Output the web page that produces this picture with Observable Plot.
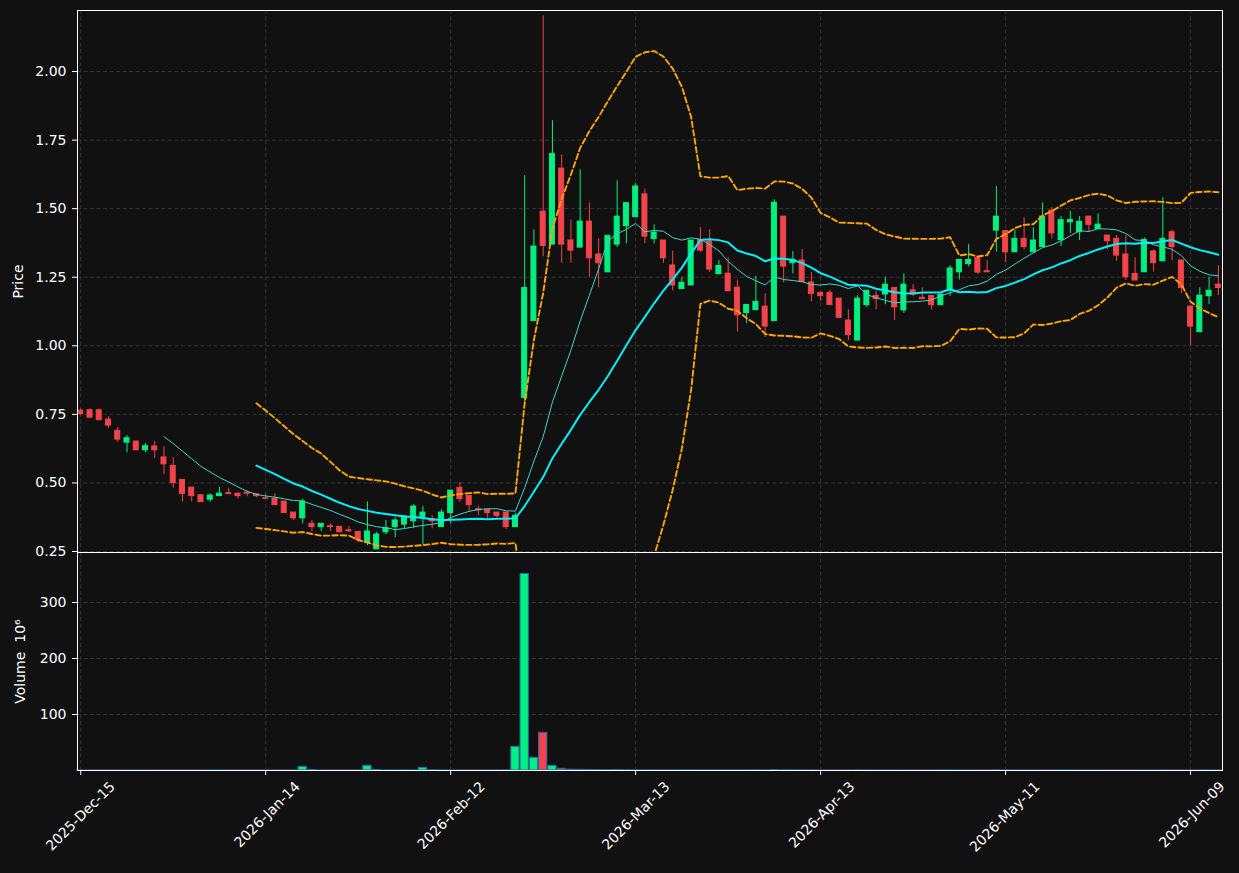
<!DOCTYPE html>
<html><head><meta charset="utf-8">
<script src="https://cdn.jsdelivr.net/npm/d3@7"></script>
<script src="https://cdn.jsdelivr.net/npm/@observablehq/plot@0.6"></script>
<style>
html,body{margin:0;padding:0;background:#111111;}
#chart{width:1239px;height:873px;overflow:hidden;background:#111111;}
#chart svg{display:block;}
</style></head><body><div id="chart"></div>
<script>
// ---- data (index = trading day) ----
const tickIdx = [0, 20, 40, 60, 80, 100, 120];
const tickLabels = ["2025-Dec-15","2026-Jan-14","2026-Feb-12","2026-Mar-13","2026-Apr-13","2026-May-11","2026-Jun-09"];
const priceTicks = [0.25, 0.50, 0.75, 1.00, 1.25, 1.50, 1.75, 2.00];
const volumeTicks = [100, 200, 300];

const opens = [0.764,0.765,0.765,0.731,0.690,0.647,0.651,0.619,0.633,0.593,
0.562,0.511,0.483,0.455,0.439,0.452,0.463,0.461,0.465,0.459,
0.444,0.443,0.432,0.392,0.371,0.351,0.339,0.342,0.340,0.327,
0.321,0.282,0.258,0.320,0.339,0.348,0.360,0.375,0.368,0.339,
0.390,0.482,0.453,0.404,0.402,0.392,0.392,0.339,0.809,1.090,
1.489,1.369,1.646,1.384,1.358,1.453,1.333,1.268,1.369,1.436,
1.469,1.552,1.389,1.384,1.293,1.207,1.220,1.386,1.380,1.261,
1.263,1.212,1.119,1.130,1.143,1.090,1.471,1.301,1.311,1.231,
1.193,1.193,1.172,1.092,1.019,1.148,1.182,1.187,1.211,1.129,
1.202,1.175,1.182,1.148,1.201,1.268,1.298,1.321,1.272,1.420,
1.418,1.341,1.390,1.341,1.360,1.493,1.385,1.450,1.414,1.471,
1.426,1.402,1.390,1.333,1.262,1.268,1.344,1.308,1.414,1.311,
1.143,1.050,1.181,1.223];
const highs = [0.770,0.770,0.770,0.741,0.702,0.673,0.651,0.644,0.651,0.632,
0.592,0.511,0.483,0.458,0.460,0.484,0.481,0.461,0.471,0.459,
0.457,0.460,0.432,0.392,0.441,0.363,0.351,0.351,0.340,0.341,
0.321,0.431,0.320,0.363,0.373,0.378,0.421,0.414,0.380,0.402,
0.472,0.502,0.453,0.414,0.402,0.392,0.392,0.389,1.620,1.423,
2.203,1.821,1.696,1.459,1.642,1.521,1.390,1.401,1.601,1.522,
1.591,1.572,1.441,1.384,1.345,1.250,1.384,1.432,1.423,1.311,
1.321,1.240,1.149,1.253,1.189,1.532,1.471,1.344,1.351,1.268,
1.193,1.202,1.172,1.131,1.182,1.201,1.199,1.250,1.211,1.262,
1.223,1.211,1.182,1.187,1.292,1.313,1.370,1.321,1.311,1.581,
1.418,1.423,1.467,1.430,1.521,1.505,1.471,1.490,1.471,1.471,
1.481,1.402,1.402,1.402,1.321,1.393,1.350,1.540,1.423,1.311,
1.143,1.211,1.250,1.292];
const lows = [0.745,0.736,0.727,0.700,0.648,0.610,0.619,0.610,0.590,0.530,
0.481,0.430,0.430,0.430,0.430,0.452,0.459,0.441,0.450,0.446,
0.440,0.419,0.390,0.363,0.351,0.323,0.323,0.323,0.320,0.319,
0.283,0.271,0.258,0.311,0.300,0.333,0.333,0.275,0.333,0.339,
0.351,0.429,0.392,0.380,0.363,0.372,0.331,0.339,0.782,1.090,
1.325,1.369,1.301,1.301,1.358,1.250,1.211,1.268,1.359,1.372,
1.469,1.372,1.372,1.301,1.200,1.207,1.220,1.341,1.267,1.261,
1.199,1.050,1.080,1.130,1.031,1.090,1.229,1.262,1.232,1.160,
1.162,1.149,1.102,1.019,1.019,1.140,1.131,1.150,1.092,1.119,
1.179,1.170,1.131,1.148,1.180,1.240,1.288,1.260,1.268,1.341,
1.303,1.341,1.350,1.341,1.360,1.390,1.362,1.410,1.384,1.414,
1.426,1.350,1.308,1.238,1.238,1.268,1.268,1.308,1.311,1.190,
1.001,1.050,1.150,1.183];
const closes = [0.751,0.738,0.729,0.709,0.658,0.663,0.619,0.634,0.619,0.568,
0.499,0.460,0.452,0.430,0.454,0.461,0.459,0.452,0.461,0.452,
0.442,0.419,0.390,0.371,0.432,0.339,0.351,0.339,0.320,0.324,
0.292,0.323,0.312,0.335,0.363,0.378,0.414,0.392,0.360,0.392,
0.472,0.441,0.419,0.400,0.390,0.380,0.339,0.380,1.211,1.362,
1.364,1.700,1.369,1.347,1.453,1.319,1.301,1.401,1.471,1.520,
1.581,1.398,1.413,1.319,1.220,1.230,1.384,1.347,1.278,1.291,
1.199,1.111,1.149,1.160,1.070,1.522,1.289,1.313,1.232,1.189,
1.181,1.149,1.102,1.039,1.172,1.201,1.170,1.223,1.140,1.223,
1.187,1.170,1.148,1.187,1.282,1.313,1.313,1.267,1.268,1.471,
1.341,1.390,1.360,1.384,1.471,1.410,1.458,1.459,1.452,1.441,
1.442,1.381,1.329,1.250,1.238,1.386,1.301,1.390,1.360,1.211,
1.070,1.183,1.201,1.211];
// volume, millions
const volumes = [0.1,0.1,0.1,0.1,0.1,0.1,0.1,0.1,0.1,0.1,
0.1,0.1,0.1,0.1,0.1,0.1,0.1,0.1,0.1,0.1,
0.1,0.1,0.1,0.1,6.5,1.0,0.1,0.1,0.1,0.1,
0.1,8.3,1.0,0.1,0.1,0.1,0.1,4.8,0.5,0.1,
0.1,0.1,0.1,0.1,0.1,0.1,0.3,42.3,351,22.6,
67.3,8.3,3.0,1.5,1.2,1.0,0.8,0.6,1.0,0.5,
0.3,0.2,0.2,0.2,0.2,0.2,0.2,0.2,0.2,0.2,
0.2,0.2,0.2,0.2,0.2,0.8,0.3,0.2,0.2,0.2,
0.1,0.1,0.1,0.1,0.2,0.1,0.1,0.1,0.1,0.1,
0.1,0.1,0.1,0.1,0.1,0.1,0.1,0.1,0.1,0.2,
0.1,0.1,0.1,0.1,0.1,0.1,0.1,0.1,0.1,0.1,
0.1,0.1,0.1,0.1,0.1,0.1,0.1,0.1,0.1,0.1,
0.1,0.1,0.1,0.1];

// ---- styling ----
const UP = "#00f080", DOWN = "#f2444a";
const FONT = "DejaVu Sans";
const grid = {stroke: "#3a3a3a", strokeOpacity: 1, strokeWidth: 0.9, strokeDasharray: "4,2.5"};
const xDomain = [-0.35, 123.45];
const TXT = {fill: "white", fontSize: 14, fontFamily: FONT};

const candles = opens.map((o, i) => ({i, o, h: highs[i], l: lows[i], c: closes[i], v: volumes[i], up: closes[i] >= o}));

// moving averages and bands of closing prices (as drawn by the original chart)
function rolling(n) {
  return closes.map((_, i) => {
    if (i < n - 1) return null;
    const w = closes.slice(i - n + 1, i + 1);
    const m = d3.mean(w);
    const sd = Math.sqrt(d3.mean(w, x => (x - m) ** 2));
    return {i, m, up: m + 2 * sd, lo: m - 2 * sd};
  }).filter(d => d);
}
const ma10 = rolling(10);
const ma20 = rolling(20);

const priceChart = Plot.plot({
  width: 1239, height: 552,
  marginLeft: 77, marginRight: 17, marginTop: 10, marginBottom: 0,
  style: {background: "#111111", color: "white", fontFamily: FONT, fontSize: "14px", overflow: "visible", position: "relative", zIndex: 2},
  x: {type: "linear", domain: xDomain, axis: null},
  y: {domain: [0.2464, 2.2225], axis: null},
  marks: [
    Plot.gridY(priceTicks, grid),
    Plot.gridX(tickIdx, grid),
    Plot.ruleX(candles, {x: "i", y1: "l", y2: "h", stroke: d => d.up ? UP : DOWN, strokeWidth: 1, clip: true}),
    Plot.rect(candles, {x1: d => d.i - 0.27, x2: d => d.i + 0.27, y1: "o", y2: "c",
      fill: d => d.up ? UP : DOWN, stroke: d => d.up ? UP : DOWN, strokeWidth: 1, clip: true}),
    Plot.line(ma10, {x: "i", y: "m", stroke: "#3fd6c8", strokeWidth: 1, clip: true}),
    Plot.line(ma20, {x: "i", y: "m", stroke: "#00f0ff", strokeWidth: 2, clip: true}),
    Plot.line(ma20, {x: "i", y: "up", stroke: "#ffa500", strokeWidth: 1.9, strokeDasharray: "5.5,3", clip: true}),
    Plot.line(ma20, {x: "i", y: "lo", stroke: "#ffa500", strokeWidth: 1.9, strokeDasharray: "5.5,3", clip: true}),
    Plot.axisY({ticks: priceTicks, tickFormat: () => "", tickSize: 5, stroke: "white", label: null}),
    Plot.text(priceTicks, {y: d => d, text: d3.format(".2f"), frameAnchor: "left", textAnchor: "end", dx: -11, ...TXT}),
    Plot.text(["Price"], {frameAnchor: "left", textAnchor: "middle", dx: -59, rotate: -90, ...TXT}),
    Plot.frame({stroke: "white", strokeWidth: 1})
  ]
});

const volChart = Plot.plot({
  width: 1239, height: 321,
  marginLeft: 77, marginRight: 17, marginTop: 0, marginBottom: 103,
  style: {background: "#111111", color: "white", fontFamily: FONT, fontSize: "14px", position: "relative", zIndex: 1},
  x: {type: "linear", domain: xDomain, axis: null},
  y: {domain: [0, 389.3], axis: null},
  marks: [
    Plot.gridY(volumeTicks, grid),
    Plot.gridX(tickIdx, grid),
    Plot.rect(candles, {x1: d => d.i - 0.45, x2: d => d.i + 0.45, y1: 0, y2: "v",
      fill: d => d.up ? UP : DOWN, stroke: "#2468b0", strokeWidth: 1}),
    Plot.axisY({ticks: volumeTicks, tickFormat: () => "", tickSize: 5, stroke: "white", label: null}),
    Plot.text(volumeTicks, {y: d => d, text: d3.format("d"), frameAnchor: "left", textAnchor: "end", dx: -11, ...TXT}),
    Plot.axisX({ticks: tickIdx, tickSize: 5, tickFormat: () => "", stroke: "white", label: null}),
    Plot.text(tickIdx, {x: d => d, text: (d, j) => tickLabels[j], frameAnchor: "bottom",
      rotate: -45, textAnchor: "end", dx: 35, dy: 17, ...TXT}),
    Plot.text(["Volume  10⁶"], {frameAnchor: "left", textAnchor: "middle", dx: -57, rotate: -90, ...TXT}),
    Plot.frame({stroke: "white", strokeWidth: 1})
  ]
});

const root = document.getElementById("chart");
root.appendChild(priceChart);
root.appendChild(volChart);
</script>
</body></html>
